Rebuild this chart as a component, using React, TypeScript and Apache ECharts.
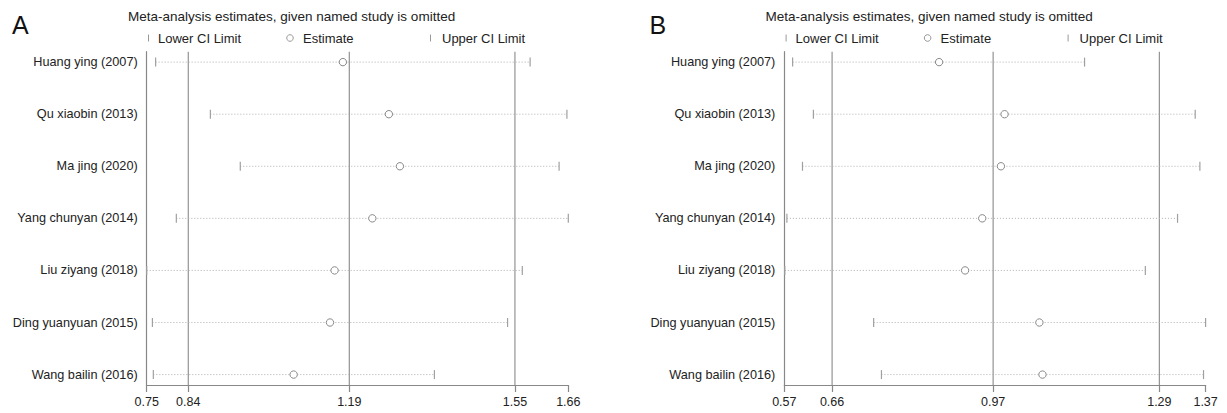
import React, { useEffect, useRef } from "react";
import * as echarts from "echarts";

const studies = [
  "Huang ying (2007)",
  "Qu xiaobin (2013)",
  "Ma jing (2020)",
  "Yang chunyan (2014)",
  "Liu ziyang (2018)",
  "Ding yuanyuan (2015)",
  "Wang bailin (2016)",
];

const aLower = [0.769, 0.888, 0.953, 0.814, 0.7496, 0.762, 0.764];
const aEst = [1.176, 1.276, 1.3, 1.24, 1.158, 1.148, 1.069];
const aUpper = [1.583, 1.663, 1.646, 1.666, 1.566, 1.534, 1.375];
const aRef = [0.84, 1.19, 1.55];
const aTicks = [0.7496, 0.84, 1.19, 1.55, 1.666];
const aTickLabels = ["0.75", "0.84", "1.19", "1.55", "1.66"];

const bLower = [0.584, 0.624, 0.603, 0.573, 0.569, 0.74, 0.755];
const bEst = [0.866, 0.992, 0.985, 0.949, 0.916, 1.059, 1.065];
const bUpper = [1.146, 1.359, 1.368, 1.325, 1.263, 1.379, 1.375];
const bRef = [0.66, 0.97, 1.29];
const bTicks = [0.568, 0.66, 0.97, 1.29, 1.379];
const bTickLabels = ["0.57", "0.66", "0.97", "1.29", "1.37"];

const panelLabels = ["A", "B"];
const titleText = "Meta-analysis estimates, given named study is omitted";
const legendLabels = ["Lower CI Limit", "Estimate", "Upper CI Limit"];

const FONT = "'Liberation Sans', Arial, Helvetica, sans-serif";
const TEXT = "#222";
const AXIS = "#888";

function tickFormatter(ticks: number[], labels: string[]) {
  return (v: number) => {
    let best = 0;
    let bd = Infinity;
    ticks.forEach((t, i) => {
      const d = Math.abs(t - v);
      if (d < bd) {
        bd = d;
        best = i;
      }
    });
    return labels[best];
  };
}

function ciRender(params: any, api: any) {
  const row = api.value(0);
  const p1 = api.coord([api.value(1), row]);
  const pe = api.coord([api.value(2), row]);
  const p2 = api.coord([api.value(3), row]);
  const h = 4.5;
  return {
    type: "group",
    children: [
      {
        type: "line",
        shape: { x1: p1[0], y1: p1[1], x2: p2[0], y2: p2[1] },
        style: { stroke: "#b0b0b0", lineWidth: 1, lineDash: [1, 2] },
      },
      {
        type: "line",
        shape: { x1: p1[0], y1: p1[1] - h, x2: p1[0], y2: p1[1] + h },
        style: { stroke: "#a0a0a0", lineWidth: 1.2 },
      },
      {
        type: "line",
        shape: { x1: p2[0], y1: p2[1] - h, x2: p2[0], y2: p2[1] + h },
        style: { stroke: "#a0a0a0", lineWidth: 1.2 },
      },
      {
        type: "circle",
        shape: { cx: pe[0], cy: pe[1], r: 3.7 },
        style: { fill: "#fff", stroke: "#888", lineWidth: 1 },
      },
    ],
  };
}

function refRender(params: any, api: any) {
  const cs = params.coordSys;
  const x = api.coord([api.value(0), 1])[0];
  return {
    type: "line",
    shape: { x1: x, y1: cs.y, x2: x, y2: cs.y + cs.height },
    style: { stroke: "#939393", lineWidth: 1.2 },
  };
}

function panelGraphics(dx: number, label: string) {
  const ly = 38;
  return [
    {
      type: "text",
      x: 12 + dx,
      y: 25,
      style: { text: label, fill: "#111", fontSize: 25, fontFamily: FONT, align: "left", verticalAlign: "middle" },
    },
    {
      type: "text",
      x: 128 + dx,
      y: 16.5,
      style: { text: titleText, fill: TEXT, fontSize: 13.5, fontFamily: FONT, align: "left", verticalAlign: "middle" },
    },
    {
      type: "line",
      shape: { x1: 148.5 + dx, y1: ly - 3.5, x2: 148.5 + dx, y2: ly + 3.5 },
      style: { stroke: "#999", lineWidth: 1 },
    },
    {
      type: "text",
      x: 158 + dx,
      y: ly,
      style: { text: legendLabels[0], fill: TEXT, fontSize: 13, fontFamily: FONT, align: "left", verticalAlign: "middle" },
    },
    {
      type: "circle",
      shape: { cx: 290 + dx, cy: ly, r: 3.3 },
      style: { fill: "#fff", stroke: "#999", lineWidth: 1 },
    },
    {
      type: "text",
      x: 303 + dx,
      y: ly,
      style: { text: legendLabels[1], fill: TEXT, fontSize: 13, fontFamily: FONT, align: "left", verticalAlign: "middle" },
    },
    {
      type: "line",
      shape: { x1: 430.5 + dx, y1: ly - 3.5, x2: 430.5 + dx, y2: ly + 3.5 },
      style: { stroke: "#999", lineWidth: 1 },
    },
    {
      type: "text",
      x: 442 + dx,
      y: ly,
      style: { text: legendLabels[2], fill: TEXT, fontSize: 13, fontFamily: FONT, align: "left", verticalAlign: "middle" },
    },
  ];
}

function xAxisFor(gridIndex: number, ticks: number[], labels: string[]) {
  return {
    type: "value",
    gridIndex,
    min: ticks[0],
    max: ticks[ticks.length - 1],
    axisLine: { show: true, lineStyle: { color: AXIS, width: 1.2 } },
    axisTick: { show: true, length: 7, customValues: ticks, lineStyle: { color: AXIS, width: 1.2 } },
    axisLabel: {
      customValues: ticks,
      formatter: tickFormatter(ticks, labels),
      color: TEXT,
      fontSize: 12.5,
      fontFamily: FONT,
      margin: 10,
    },
    splitLine: { show: false },
  };
}

function yAxisFor(gridIndex: number) {
  return {
    type: "value",
    gridIndex,
    min: 0.8,
    max: 7.2,
    inverse: true,
    axisLine: { show: true, onZero: false, lineStyle: { color: AXIS, width: 1.2 } },
    axisTick: { show: false },
    axisLabel: {
      customValues: [1, 2, 3, 4, 5, 6, 7],
      formatter: (v: number) => studies[Math.round(v) - 1] || "",
      color: TEXT,
      fontSize: 12.7,
      fontFamily: FONT,
      margin: 9,
    },
    splitLine: { show: false },
  };
}

function ciData(lower: number[], est: number[], upper: number[]) {
  return studies.map((_, i) => [i + 1, lower[i], est[i], upper[i]]);
}

export default function App() {
  const ref = useRef<HTMLDivElement>(null);
  useEffect(() => {
    if (!ref.current) return;
    document.body.style.margin = "0";
    const chart = echarts.init(ref.current, undefined, { renderer: "svg" });
    chart.setOption({
      animation: false,
      backgroundColor: "#fff",
      textStyle: { fontFamily: FONT },
      grid: [
        { left: 146.7, top: 51.7, width: 421.6, height: 333.3 },
        { left: 784.3, top: 51.7, width: 421.3, height: 333.3 },
      ],
      xAxis: [xAxisFor(0, aTicks, aTickLabels), xAxisFor(1, bTicks, bTickLabels)],
      yAxis: [yAxisFor(0), yAxisFor(1)],
      graphic: [...panelGraphics(0, panelLabels[0]), ...panelGraphics(637.6, panelLabels[1])],
      series: [
        {
          type: "custom",
          xAxisIndex: 0,
          yAxisIndex: 0,
          renderItem: refRender,
          data: aRef.map((v) => [v]),
          encode: { x: 0 },
          silent: true,
          z: 1,
        },
        {
          type: "custom",
          xAxisIndex: 0,
          yAxisIndex: 0,
          renderItem: ciRender,
          data: ciData(aLower, aEst, aUpper),
          encode: { x: [1, 2, 3], y: 0 },
          silent: true,
          z: 2,
        },
        {
          type: "custom",
          xAxisIndex: 1,
          yAxisIndex: 1,
          renderItem: refRender,
          data: bRef.map((v) => [v]),
          encode: { x: 0 },
          silent: true,
          z: 1,
        },
        {
          type: "custom",
          xAxisIndex: 1,
          yAxisIndex: 1,
          renderItem: ciRender,
          data: ciData(bLower, bEst, bUpper),
          encode: { x: [1, 2, 3], y: 0 },
          silent: true,
          z: 2,
        },
      ],
    });
    return () => chart.dispose();
  }, []);
  return (
    <div
      ref={ref}
      style={{ position: "fixed", left: 0, top: 0, width: 1227, height: 413, background: "#fff" }}
    />
  );
}
